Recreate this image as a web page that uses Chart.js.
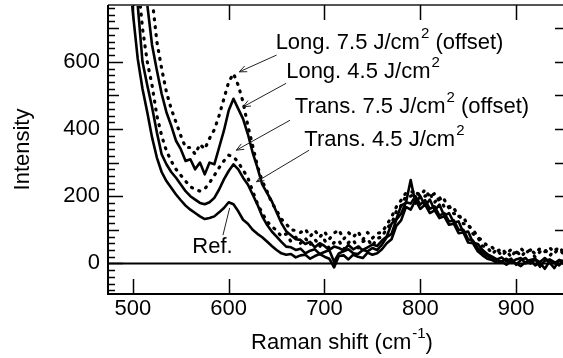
<!DOCTYPE html>
<html>
<head>
<meta charset="utf-8">
<script src="https://cdn.jsdelivr.net/npm/chart.js@4/dist/chart.umd.min.js"></script>
<style>
  html, body { margin: 0; padding: 0; background: #fff; }
  canvas { display: block; }
</style>
</head>
<body>
<canvas id="raman" width="563" height="358"></canvas>
<script>
'use strict';

// Raman shift (cm-1), shared by all spectra.
const shift = [
  495, 500, 505, 510, 515, 520, 525, 530, 535, 540,
  545, 550, 555, 560, 565, 570, 575, 580, 585, 590,
  595, 600, 605, 610, 615, 620, 625, 630, 635, 640,
  645, 650, 655, 660, 665, 670, 675, 680, 685, 690,
  695, 700, 705, 710, 715, 720, 725, 730, 735, 740,
  745, 750, 755, 760, 765, 770, 775, 780, 785, 790,
  795, 800, 805, 810, 815, 820, 825, 830, 835, 840,
  845, 850, 855, 860, 865, 870, 875, 880, 885, 890,
  895, 900, 905, 910, 915, 920, 925, 930, 935, 940,
  945, 950,
];

// Intensities.
const refSpec = [
  900, 745, 610, 520, 450, 375, 315, 272, 245, 225,
  205, 188, 172, 160, 150, 140, 132, 135, 140, 152,
  165, 182, 176, 155, 130, 118, 100, 88, 78, 65,
  52, 40, 30, 26, 28, 18, 24, 26, 14, 22,
  28, 20, 14, -12, 22, 24, 12, 26, 20, 16,
  32, 26, 30, 42, 60, 72, 112, 128, 168, 160,
  188, 162, 175, 150, 158, 135, 140, 115, 118, 90,
  92, 62, 60, 36, 24, 14, 10, 2, 6, -4,
  8, 0, -8, 4, 10, -6, 2, -16, 6, 0,
  10, -2,
];

const trans45 = [
  1000, 900, 770, 600, 530, 465, 390, 325, 295, 272,
  255, 235, 215, 200, 190, 180, 176, 182, 195, 220,
  250, 275, 295, 280, 255, 235, 205, 175, 140, 115,
  95, 80, 64, 50, 48, 40, 44, 30, 38, 42,
  28, 34, 40, 5, 30, 36, 42, 30, 28, 40,
  36, 46, 40, 56, 78, 88, 130, 148, 182, 178,
  200, 175, 188, 162, 170, 142, 150, 125, 128, 100,
  100, 72, 68, 45, 32, 22, 16, 10, 6, 14,
  4, 12, 16, 0, 10, 14, -10, 8, 12, 4,
  -6, 10,
];

const trans75 = [
  1000, 950, 850, 700, 600, 530, 440, 380, 335, 305,
  280, 262, 245, 228, 220, 215, 222, 240, 262, 285,
  305, 322, 318, 300, 278, 255, 215, 178, 150, 125,
  110, 98, 80, 88, 65, 78, 60, 75, 55, 72,
  50, 70, 45, 62, 68, 42, 62, 70, 45, 65,
  72, 52, 75, 78, 105, 118, 155, 172, 200, 200,
  210, 205, 200, 208, 182, 198, 168, 172, 148, 148,
  118, 118, 88, 78, 52, 48, 28, 42, 22, 38,
  18, 40, 20, 35, 40, 18, 35, 42, 22, 40,
  45, 25,
];

const long45 = [
  1100, 1000, 950, 880, 770, 650, 575, 505, 450, 410,
  365, 340, 305, 310, 280, 300, 265, 300, 295, 345,
  395, 455, 490, 460, 430, 385, 330, 285, 235, 210,
  185, 152, 120, 96, 84, 72, 70, 58, 64, 48,
  60, 52, 40, 50, 46, 38, 55, 42, 50, 40,
  48, 56, 52, 68, 80, 118, 132, 172, 180, 248,
  178, 200, 172, 190, 158, 175, 142, 150, 122, 125,
  92, 95, 62, 58, 40, 28, 20, 12, 18, 6,
  14, -4, 10, 16, 0, 12, 4, 16, 2, -14,
  10, 6,
];

const long75 = [
  1100, 1050, 1000, 950, 880, 790, 660, 580, 510, 460,
  420, 380, 345, 345, 325, 355, 340, 372, 398, 440,
  490, 540, 565, 530, 480, 410, 350, 290, 245, 215,
  180, 158, 132, 118, 100, 98, 92, 102, 80, 98,
  78, 95, 72, 90, 100, 72, 92, 78, 95, 70,
  92, 75, 90, 92, 115, 138, 168, 188, 210, 212,
  215, 200, 220, 198, 208, 185, 190, 165, 165, 140,
  138, 112, 102, 78, 68, 52, 48, 35, 45, 28,
  42, 32, 45, 30, 42, 28, 45, 35, 48, 30,
  45, 35,
];

const xTickLabels = [500, 600, 700, 800, 900];
const yTickLabels = [0, 200, 400, 600];

// Labels with leader arrows, in data units: text anchor, arrow tail, arrow head.
const notes = [
  { text: 'Long. 7.5 J/cm', sup: '2', tail: ' (offset)', at: [649, 656], from: [650, 620], to: [611, 570], head: true },
  { text: 'Long. 4.5 J/cm', sup: '2', tail: '', at: [660, 569], from: [660, 536], to: [615, 466], head: true },
  { text: 'Trans. 7.5 J/cm', sup: '2', tail: ' (offset)', at: [669, 465], from: [664, 426], to: [608, 337], head: true },
  { text: 'Trans. 4.5 J/cm', sup: '2', tail: '', at: [679, 367], from: [684, 337], to: [629, 243], head: true },
  { text: 'Ref.', sup: '', tail: '', at: [562, 48], from: [594, 84], to: [601, 165], head: false },
];

const FONT = '"Liberation Sans", Arial, sans-serif';
const FONT_SIZE = 22;

const series = [
  { data: refSpec, dash: [] },
  { data: trans45, dash: [] },
  { data: trans75, dash: [1, 7] },
  { data: long45, dash: [] },
  { data: long75, dash: [1, 7] },
];

// --- Frame, inward ticks and texts ---------------------------------------

function line(ctx, x1, y1, x2, y2) {
  ctx.beginPath();
  ctx.moveTo(x1, y1);
  ctx.lineTo(x2, y2);
  ctx.stroke();
}

function drawSupText(ctx, x, y, main, sup, tail, size) {
  ctx.textAlign = 'left';
  ctx.textBaseline = 'middle';
  ctx.font = `${size}px ${FONT}`;
  ctx.fillText(main, x, y);
  let cx = x + ctx.measureText(main).width;
  if (sup) {
    ctx.font = `${Math.round(size * 0.68)}px ${FONT}`;
    ctx.fillText(sup, cx + 1, y - size * 0.42);
    cx += ctx.measureText(sup).width + 1;
  }
  if (tail) {
    ctx.font = `${size}px ${FONT}`;
    ctx.fillText(tail, cx, y);
  }
}

function supWidth(ctx, main, sup, tail, size) {
  ctx.font = `${size}px ${FONT}`;
  let w = ctx.measureText(main).width + ctx.measureText(tail).width;
  ctx.font = `${Math.round(size * 0.68)}px ${FONT}`;
  return w + ctx.measureText(sup).width + 1;
}

const framePlugin = {
  id: 'frame',
  afterDatasetsDraw(chart) {
    const { ctx, chartArea: a, scales: { x, y } } = chart;
    ctx.save();
    ctx.strokeStyle = '#000';
    ctx.fillStyle = '#000';
    ctx.lineCap = 'butt';

    // zero line
    ctx.lineWidth = 2;
    line(ctx, a.left, y.getPixelForValue(0), a.right, y.getPixelForValue(0));

    // borders
    ctx.strokeStyle = '#555';
    line(ctx, a.left, a.top, a.right, a.top);
    ctx.strokeStyle = '#000';
    line(ctx, a.left, a.top, a.left, a.bottom);
    line(ctx, a.left - 1, a.bottom, a.right, a.bottom);

    // left ticks: every 20, longer at 100 and 200
    ctx.lineWidth = 1.5;
    for (let v = -80; v <= 760; v += 20) {
      const len = v % 200 === 0 ? 15 : (v % 100 === 0 ? 11 : 7);
      const py = Math.round(y.getPixelForValue(v)) + 0.5;
      line(ctx, a.left, py, a.left + len, py);
    }
    // right ticks every 100
    for (let v = 0; v <= 700; v += 100) {
      const py = Math.round(y.getPixelForValue(v)) + 0.5;
      line(ctx, a.right, py, a.right - 8, py);
    }
    // bottom / top ticks
    for (const v of xTickLabels) {
      const px = Math.round(x.getPixelForValue(v)) + 0.5;
      line(ctx, px, a.bottom, px, a.bottom - 15);
      line(ctx, px, a.top, px, a.top + 15);
    }

    // tick labels
    ctx.font = `${FONT_SIZE}px ${FONT}`;
    ctx.textAlign = 'center';
    ctx.textBaseline = 'middle';
    for (const v of xTickLabels) ctx.fillText(String(v), x.getPixelForValue(v), a.bottom + 15);
    ctx.textAlign = 'right';
    for (const v of yTickLabels) ctx.fillText(String(v), a.left - 8, y.getPixelForValue(v));

    // axis titles
    const xt = ['Raman shift (cm', '-1', ')'];
    const w = supWidth(ctx, xt[0], xt[1], xt[2], FONT_SIZE);
    drawSupText(ctx, 342 - w / 2, a.bottom + 49, xt[0], xt[1], xt[2], FONT_SIZE);

    ctx.save();
    ctx.translate(23, (a.top + a.bottom) / 2);
    ctx.rotate(-Math.PI / 2);
    ctx.font = `${FONT_SIZE}px ${FONT}`;
    ctx.textAlign = 'center';
    ctx.textBaseline = 'middle';
    ctx.fillText('Intensity', 0, 0);
    ctx.restore();

    // annotations
    for (const n of notes) {
      drawSupText(ctx, x.getPixelForValue(n.at[0]), y.getPixelForValue(n.at[1]), n.text, n.sup, n.tail, FONT_SIZE);
      const x1 = x.getPixelForValue(n.from[0]), y1 = y.getPixelForValue(n.from[1]);
      const x2 = x.getPixelForValue(n.to[0]), y2 = y.getPixelForValue(n.to[1]);
      ctx.lineWidth = 1;
      ctx.strokeStyle = '#222';
      line(ctx, x1, y1, x2, y2);
      if (n.head) {
        const ang = Math.atan2(y2 - y1, x2 - x1);
        ctx.beginPath();
        ctx.moveTo(x2 - 8 * Math.cos(ang - 0.4), y2 - 8 * Math.sin(ang - 0.4));
        ctx.lineTo(x2, y2);
        ctx.lineTo(x2 - 8 * Math.cos(ang + 0.4), y2 - 8 * Math.sin(ang + 0.4));
        ctx.stroke();
      }
    }
    ctx.restore();
  },
};

new Chart(document.getElementById('raman').getContext('2d'), {
  type: 'line',
  data: {
    datasets: series.map((s) => ({
      data: shift.map((v, i) => ({ x: v, y: s.data[i] })),
      borderColor: '#000',
      borderWidth: s.dash.length ? 3.2 : 2.6,
      borderDash: s.dash,
      borderCapStyle: s.dash.length ? 'round' : 'butt',
      borderJoinStyle: 'round',
      pointRadius: 0,
      tension: 0,
      fill: false,
    })),
  },
  options: {
    responsive: false,
    animation: false,
    layout: { padding: { left: 108, top: 5, right: 0, bottom: 64 } },
    scales: {
      x: { type: 'linear', min: 474, max: 949, display: false },
      y: { type: 'linear', min: -91, max: 769, display: false },
    },
    plugins: { legend: { display: false }, tooltip: { enabled: false } },
  },
  plugins: [framePlugin],
});
</script>
</body>
</html>
